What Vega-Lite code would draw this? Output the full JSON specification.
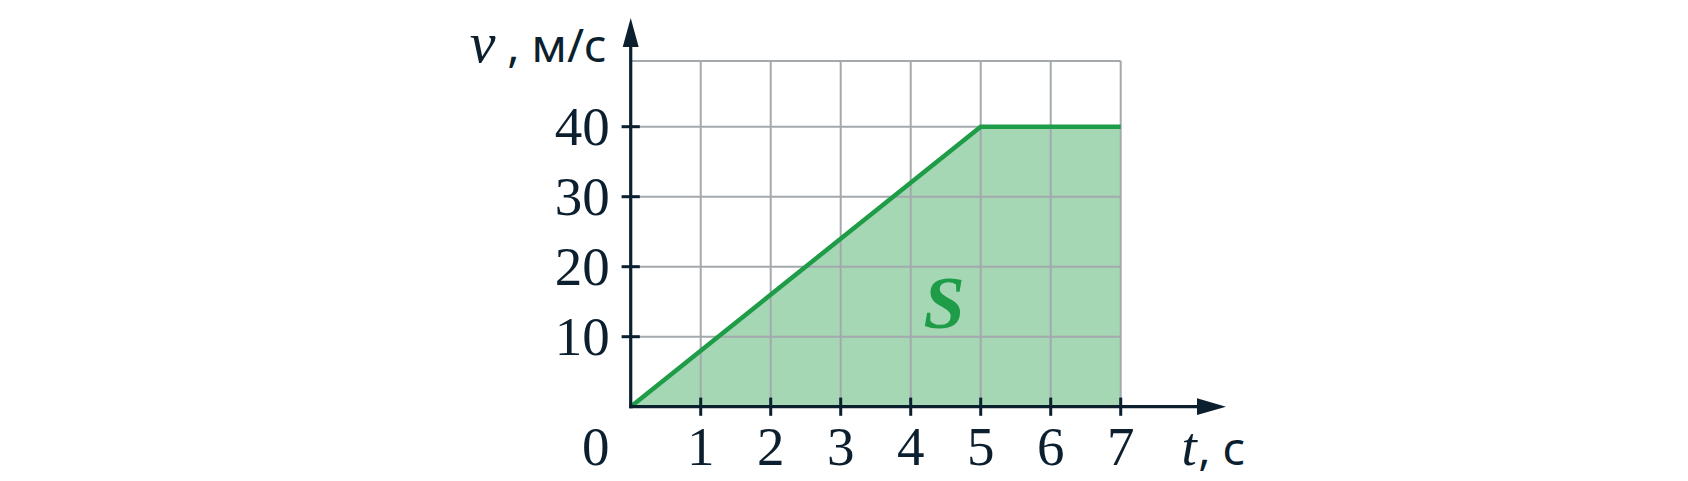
{
  "$schema": "https://vega.github.io/schema/vega-lite/v6.json",
  "width": 1688,
  "height": 481,
  "autosize": "none",
  "padding": 0,
  "background": "white",
  "config": {"view": {"stroke": null}},
  "datasets": {
    "curve": [{"t": 0, "v": 0}, {"t": 5, "v": 40}, {"t": 7, "v": 40}],
    "xt": [{"t": 1, "label": "1"}, {"t": 2, "label": "2"}, {"t": 3, "label": "3"}, {"t": 4, "label": "4"}, {"t": 5, "label": "5"}, {"t": 6, "label": "6"}, {"t": 7, "label": "7"}],
    "yt": [{"v": 10, "label": "10"}, {"v": 20, "label": "20"}, {"v": 30, "label": "30"}, {"v": 40, "label": "40"}],
    "ygrid": [{"v": 10}, {"v": 20}, {"v": 30}, {"v": 40}, {"v": 49.4}]
  },
  "encoding": {},
  "layer": [
    {
      "data": {"name": "curve"},
      "mark": {"type": "area", "color": "#a5d7b5", "opacity": 1},
      "encoding": {
        "x": {"field": "t", "type": "quantitative", "scale": {"domain": [-9.01, 15.104], "nice": false, "zero": false}, "axis": null},
        "y": {"field": "v", "type": "quantitative", "scale": {"domain": [-10.614, 58.1], "nice": false, "zero": false}, "axis": null}
      }
    },
    {
      "data": {"name": "xt"},
      "mark": {"type": "rule", "color": "#a3a9ad", "strokeWidth": 2},
      "encoding": {
        "x": {"field": "t", "type": "quantitative"},
        "y": {"datum": 0},
        "y2": {"datum": 49.4}
      }
    },
    {
      "data": {"name": "ygrid"},
      "mark": {"type": "rule", "color": "#a3a9ad", "strokeWidth": 2},
      "encoding": {
        "y": {"field": "v", "type": "quantitative"},
        "x": {"datum": 0},
        "x2": {"datum": 7}
      }
    },
    {
      "data": {"name": "curve"},
      "mark": {"type": "line", "color": "#1e9c48", "strokeWidth": 4.5},
      "encoding": {
        "x": {"field": "t", "type": "quantitative"},
        "y": {"field": "v", "type": "quantitative"}
      }
    },
    {
      "data": {"values": [{}]},
      "mark": {"type": "rule", "color": "#0c1f2f", "strokeWidth": 3.2, "strokeCap": "square"},
      "encoding": {"x": {"datum": 0}, "x2": {"datum": 8.3}, "y": {"datum": 0}}
    },
    {
      "data": {"values": [{}]},
      "mark": {"type": "rule", "color": "#0c1f2f", "strokeWidth": 3.2, "strokeCap": "square"},
      "encoding": {"y": {"datum": 0}, "y2": {"datum": 53.4}, "x": {"datum": 0}}
    },
    {
      "data": {"values": [{}]},
      "mark": {"type": "point", "shape": "M-1,-0.58L1,0L-1,0.58Z", "size": 841, "filled": true, "color": "#0c1f2f", "opacity": 1},
      "encoding": {"x": {"datum": 8.297}, "y": {"datum": 0}}
    },
    {
      "data": {"values": [{}]},
      "mark": {"type": "point", "shape": "M-0.55,1L0,-1L0.55,1Z", "size": 841, "filled": true, "color": "#0c1f2f", "opacity": 1},
      "encoding": {"x": {"datum": 0}, "y": {"datum": 53.46}}
    },
    {
      "data": {"name": "xt"},
      "mark": {"type": "rule", "color": "#0c1f2f", "strokeWidth": 3},
      "encoding": {
        "x": {"field": "t", "type": "quantitative"},
        "y": {"datum": -1.3},
        "y2": {"datum": 1.3}
      }
    },
    {
      "data": {"name": "yt"},
      "mark": {"type": "rule", "color": "#0c1f2f", "strokeWidth": 3},
      "encoding": {
        "y": {"field": "v", "type": "quantitative"},
        "x": {"datum": -0.13},
        "x2": {"datum": 0.13}
      }
    },
    {
      "data": {"name": "xt"},
      "mark": {"type": "text", "font": "Liberation Serif", "fontSize": 55, "color": "#0c1f2f", "align": "center", "baseline": "alphabetic", "dy": 58},
      "encoding": {
        "x": {"field": "t", "type": "quantitative"},
        "y": {"datum": 0},
        "text": {"field": "label"}
      }
    },
    {
      "data": {"values": [{"label": "0"}]},
      "mark": {"type": "text", "font": "Liberation Serif", "fontSize": 55, "color": "#0c1f2f", "align": "center", "baseline": "alphabetic", "dy": 58, "dx": -35},
      "encoding": {"x": {"datum": 0}, "y": {"datum": 0}, "text": {"field": "label"}}
    },
    {
      "data": {"name": "yt"},
      "mark": {"type": "text", "font": "Liberation Serif", "fontSize": 55, "color": "#0c1f2f", "align": "right", "baseline": "alphabetic", "dy": 18, "dx": -21},
      "encoding": {
        "y": {"field": "v", "type": "quantitative"},
        "x": {"datum": 0},
        "text": {"field": "label"}
      }
    },
    {
      "data": {"values": [{"label": "v"}]},
      "mark": {"type": "text", "font": "Liberation Serif", "fontStyle": "italic", "fontSize": 58, "color": "#0c1f2f", "align": "left", "baseline": "alphabetic", "dx": -161},
      "encoding": {"x": {"datum": 0}, "y": {"datum": 49.3}, "text": {"field": "label"}}
    },
    {
      "data": {"values": [{"label": ", м/с"}]},
      "mark": {"type": "text", "font": "Noto Sans", "fontSize": 46, "color": "#0c1f2f", "align": "right", "baseline": "alphabetic", "dx": -24},
      "encoding": {"x": {"datum": 0}, "y": {"datum": 49.3}, "text": {"field": "label"}}
    },
    {
      "data": {"values": [{"label": "t"}]},
      "mark": {"type": "text", "font": "Liberation Serif", "fontStyle": "italic", "fontSize": 55, "color": "#0c1f2f", "align": "left", "baseline": "alphabetic", "dy": 58},
      "encoding": {"x": {"datum": 7.87}, "y": {"datum": 0}, "text": {"field": "label"}}
    },
    {
      "data": {"values": [{"label": ", с"}]},
      "mark": {"type": "text", "font": "Noto Sans", "fontSize": 46, "color": "#0c1f2f", "align": "right", "baseline": "alphabetic", "dy": 58},
      "encoding": {"x": {"datum": 8.78}, "y": {"datum": 0}, "text": {"field": "label"}}
    },
    {
      "data": {"values": [{"label": "S"}]},
      "mark": {"type": "text", "font": "Liberation Serif", "fontStyle": "italic", "fontWeight": "bold", "fontSize": 74, "color": "#1e9c48", "align": "center", "baseline": "alphabetic"},
      "encoding": {"x": {"datum": 4.476}, "y": {"datum": 11.2}, "text": {"field": "label"}}
    }
  ]
}
